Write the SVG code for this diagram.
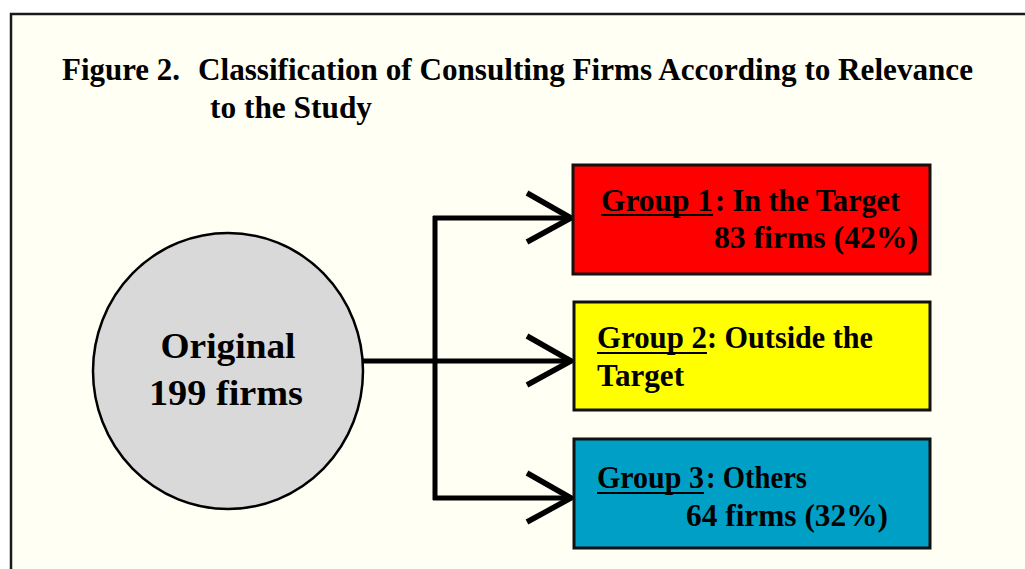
<svg xmlns="http://www.w3.org/2000/svg" width="1025" height="569" viewBox="0 0 1025 569">
  <style>
    .t { font-family: "Liberation Serif", "Times New Roman", serif; font-weight: bold; fill: #000; }
    .title { font-size: 31px; }
    .node { font-size: 32px; }
    .big { font-size: 36px; }
    .box { stroke: #111; stroke-width: 3; }
    .wire { fill: none; stroke: #000; stroke-width: 5; }
    .head { fill: none; stroke: #000; stroke-width: 5.5; stroke-linecap: butt; stroke-linejoin: miter; }
    .ul { stroke: #000; stroke-width: 2; }
  </style>

  <!-- page and frame -->
  <rect x="0" y="0" width="1025" height="569" fill="#ffffff"/>
  <rect x="11" y="14" width="1030" height="570" fill="#fffff4" stroke="#1a1a1a" stroke-width="2.5"/>

  <!-- heading -->
  <g id="title">
    <text class="t title" x="62" y="80" textLength="118" lengthAdjust="spacingAndGlyphs">Figure 2.</text>
    <text class="t title" x="198" y="80" textLength="775" lengthAdjust="spacingAndGlyphs">Classification of Consulting Firms According to Relevance</text>
    <text class="t title" x="210" y="118" textLength="162" lengthAdjust="spacingAndGlyphs">to the Study</text>
  </g>

  <!-- connectors -->
  <g id="connectors">
    <line class="wire" x1="362" y1="361" x2="571" y2="361"/>
    <line class="wire" x1="435" y1="216" x2="435" y2="500" stroke-width="3.5"/>
    <line class="wire" x1="433" y1="218" x2="571" y2="218"/>
    <line class="wire" x1="433" y1="498" x2="571" y2="498"/>
    <polyline class="head" points="527,193 571,218 527,242"/>
    <polyline class="head" points="527,336 571,361 527,385"/>
    <polyline class="head" points="527,473 571,498 527,522"/>
  </g>

  <!-- source population -->
  <g id="original">
    <ellipse cx="228" cy="371" rx="135" ry="138" fill="#d9d9d9" stroke="#000" stroke-width="2.5"/>
    <text class="t big" x="228" y="358" text-anchor="middle" textLength="135" lengthAdjust="spacingAndGlyphs">Original</text>
    <text class="t big" x="226" y="405" text-anchor="middle" textLength="154" lengthAdjust="spacingAndGlyphs">199 firms</text>
  </g>

  <!-- group 1 -->
  <g id="group1">
    <rect class="box" x="573" y="165" width="357" height="109" fill="#ff0000"/>
    <text class="t node" x="601" y="211" textLength="112" lengthAdjust="spacingAndGlyphs">Group 1</text>
    <line class="ul" x1="601" y1="215" x2="713" y2="215"/>
    <text class="t node" x="715" y="211" textLength="185" lengthAdjust="spacingAndGlyphs">: In the Target</text>
    <text class="t node" x="714" y="248" textLength="204" lengthAdjust="spacingAndGlyphs">83 firms (42%)</text>
  </g>

  <!-- group 2 -->
  <g id="group2">
    <rect class="box" x="574" y="302" width="356" height="108" fill="#ffff00"/>
    <text class="t node" x="597" y="348" textLength="110" lengthAdjust="spacingAndGlyphs">Group 2</text>
    <line class="ul" x1="597" y1="353" x2="707" y2="353"/>
    <text class="t node" x="707" y="348" textLength="166" lengthAdjust="spacingAndGlyphs">: Outside the</text>
    <text class="t node" x="597" y="386" textLength="87" lengthAdjust="spacingAndGlyphs">Target</text>
  </g>

  <!-- group 3 -->
  <g id="group3">
    <rect class="box" x="574" y="439" width="356" height="109" fill="#00a0c6"/>
    <text class="t node" x="597" y="488" textLength="107" lengthAdjust="spacingAndGlyphs">Group 3</text>
    <line class="ul" x1="597" y1="493" x2="704" y2="493"/>
    <text class="t node" x="706" y="488" textLength="101" lengthAdjust="spacingAndGlyphs">: Others</text>
    <text class="t node" x="686" y="526" textLength="202" lengthAdjust="spacingAndGlyphs">64 firms (32%)</text>
  </g>
</svg>
